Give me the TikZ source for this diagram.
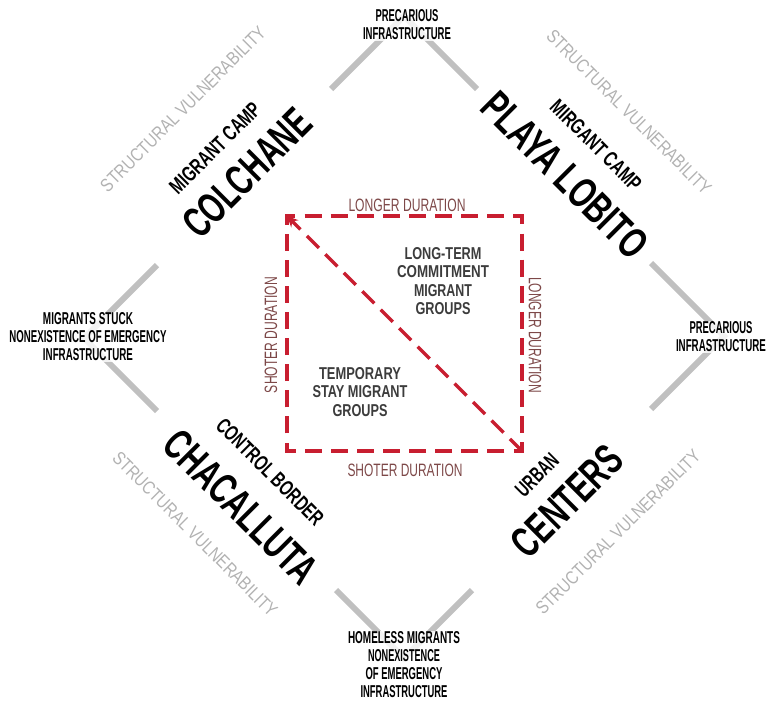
\documentclass[tikz,border=0pt]{standalone}
\usepackage{fontspec}
\usepackage{graphicx}
\setmainfont{Liberation Sans}
\usetikzlibrary{arrows.meta}
\definecolor{armgray}{RGB}{192,192,192}
\definecolor{svgray}{RGB}{178,178,178}
\definecolor{dred}{RGB}{200,30,48}
\definecolor{durcol}{RGB}{125,72,72}
\definecolor{grpcol}{RGB}{60,60,60}
\newcommand{\fz}[3]{\resizebox{#1pt}{#2pt}{#3}}
\begin{document}
\begin{tikzpicture}[x=1pt,y=-1pt,
  arm/.style={draw=armgray,line width=6pt},
  big/.style={font=\bfseries,inner sep=0pt},
  mid/.style={font=\bfseries,inner sep=0pt},
  sv/.style={text=svgray,inner sep=0pt},
  vlab/.style={font=\bfseries\fontsize{12}{18}\selectfont,align=center,inner sep=1pt,fill=white,fill opacity=0.8,text opacity=1},
  dur/.style={text=durcol,inner sep=0pt},
  grp/.style={text=grpcol,font=\bfseries\fontsize{12}{18.3}\selectfont,align=center,inner sep=0pt},
  rdash/.style={draw=dred,line width=3.5pt,dash pattern=on 17pt off 9.11pt}
]
\useasboundingbox (0,0) rectangle (768,702);

% diamond vertices and arm ends
\coordinate (T) at (404,16);
\coordinate (L) at (84,338);
\coordinate (R) at (724,336);
\coordinate (B) at (404,658);
\coordinate (T1) at (331,89);
\coordinate (T2) at (477,89);
\coordinate (L1) at (157,265);
\coordinate (L2) at (157,411);
\coordinate (R1) at (651,263);
\coordinate (R2) at (651,409);
\coordinate (B1) at (336,590);
\coordinate (B2) at (472,590);
\draw[arm] (T1) -- (T) -- (T2);
\draw[arm] (L1) -- (L) -- (L2);
\draw[arm] (R1) -- (R) -- (R2);
\draw[arm] (B1) -- (B) -- (B2);

% vertex labels
\node[vlab] (top) at (407,25) {\fz{63}{12}{PRECARIOUS}\\\fz{88}{12}{INFRASTRUCTURE}};
\node[vlab] (right) at (721,337) {\fz{63}{12}{PRECARIOUS}\\\fz{90}{12}{INFRASTRUCTURE}};
\node[vlab] (left) at (88,337) {\fz{90}{12}{MIGRANTS STUCK}\\\fz{157}{12}{NONEXISTENCE OF EMERGENCY}\\\fz{90}{12}{INFRASTRUCTURE}};
\node[vlab] (bottom) at (404,665) {\fz{112}{12}{HOMELESS MIGRANTS}\\\fz{72}{12}{NONEXISTENCE}\\\fz{77}{12}{OF EMERGENCY}\\\fz{87}{12}{INFRASTRUCTURE}};

% side labels
\node[big,rotate=45] (colchane) at (247,173) {\fz{162}{30}{COLCHANE}};
\node[mid,rotate=45] (mcamp1) at (215,148) {\fz{119}{15}{MIGRANT CAMP}};
\node[sv,rotate=45] (sv1) at (183,109) {\fz{225}{13}{STRUCTURAL VULNERABILITY}};

\node[big,rotate=-45] (playa) at (565,175) {\fz{215}{30}{PLAYA LOBITO}};
\node[mid,rotate=-45] (mcamp2) at (596,145) {\fz{119}{15}{MIRGANT CAMP}};
\node[sv,rotate=-45] (sv2) at (629,112) {\fz{224}{13}{STRUCTURAL VULNERABILITY}};

\node[big,rotate=-45] (chac) at (241,507) {\fz{198}{30}{CHACALLUTA}};
\node[mid,rotate=-45] (ctrl) at (270,472) {\fz{142}{15}{CONTROL BORDER}};
\node[sv,rotate=-45] (sv3) at (195,534) {\fz{224}{13}{STRUCTURAL VULNERABILITY}};

\node[big,rotate=45] (centers) at (567,501) {\fz{138}{30}{CENTERS}};
\node[mid,rotate=45] (urban) at (537,475) {\fz{51}{15}{URBAN}};
\node[sv,rotate=45] (sv4) at (618,532) {\fz{224}{13}{STRUCTURAL VULNERABILITY}};

% red dashed square
\coordinate (s1) at (287,216);
\coordinate (s2) at (522,216);
\coordinate (s3) at (522,451);
\coordinate (s4) at (287,451);
\coordinate (sm) at (404.5,216);
\draw[rdash,dash phase=21.56pt] (sm) -- (s2) -- (s3) -- (s4) -- (s1) -- cycle;
\draw[rdash,-{Stealth[length=11pt,width=10pt]}] (s3) -- (s1);

% inner labels
\node[dur] (d1) at (407,205) {\fz{117}{12.5}{LONGER DURATION}};
\node[dur] (d2) at (405,470) {\fz{115}{12.5}{SHOTER DURATION}};
\node[dur,rotate=90] (d3) at (271,335) {\fz{116}{12.5}{SHOTER DURATION}};
\node[dur,rotate=-90] (d4) at (535,335) {\fz{116}{12.5}{LONGER DURATION}};
\node[grp] (g1) at (443,281) {\fz{77}{12}{LONG-TERM}\\\fz{92}{12}{COMMITMENT}\\\fz{58}{12}{MIGRANT}\\\fz{55}{12}{GROUPS}};
\node[grp] (g2) at (360,392) {\fz{82}{12}{TEMPORARY}\\\fz{95}{12}{STAY MIGRANT}\\\fz{55}{12}{GROUPS}};
\end{tikzpicture}
\end{document}
